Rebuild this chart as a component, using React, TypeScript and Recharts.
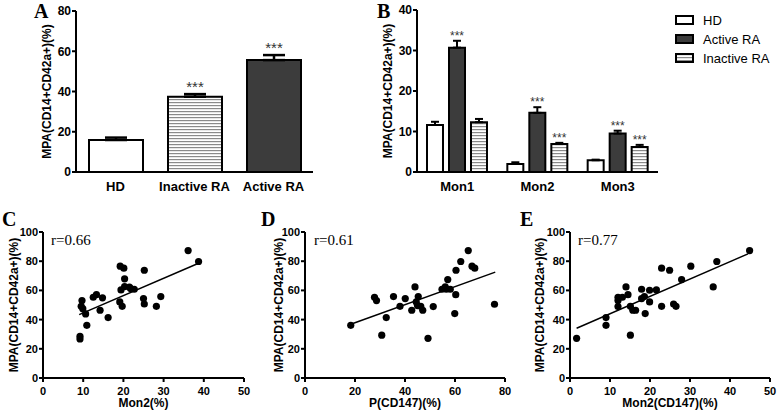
import React from 'react';
import { Bar, BarChart, Cell, ErrorBar, LabelList, ReferenceLine, Scatter, ScatterChart, XAxis, YAxis } from 'recharts';

const SANS = '"Liberation Sans", Arial, sans-serif';
const SERIF = '"Liberation Serif", "Times New Roman", serif';
const DARK = '#3c3c3c';
const Y_LABEL = 'MPA(CD14+CD42a+)(%)';

// A: MPA by group
const groupsA = ['HD', 'Inactive RA', 'Active RA'];
const meanA = [15.9, 37.4, 55.6];
const semA = [1.2, 1.3, 2.5];
const starsA = ['', '***', '***'];
const ticksA = [0, 20, 40, 60, 80];

// B: MPA by monocyte subset
const subsetsB = ['Mon1', 'Mon2', 'Mon3'];
const hdB = [11.6, 2.0, 2.9];
const hdSemB = [0.8, 0.4, 0.15];
const activeB = [30.7, 14.6, 9.5];
const activeSemB = [1.7, 1.4, 0.7];
const inactiveB = [12.3, 6.9, 6.2];
const inactiveSemB = [0.8, 0.3, 0.5];
const activeStarsB = ['***', '***', '***'];
const inactiveStarsB = ['', '***', '***'];
const ticksB = [0, 10, 20, 30, 40];

// C: Mon2(%) vs MPA
const mon2C = [9.2, 9.2, 9.7, 9.5, 9.9, 10.6, 10.9, 12.5, 13.3, 14.2, 14.8, 16.2, 19.2, 20.1, 19.1, 19.7, 19.4, 20.3, 20.3, 21.5, 21.8, 22.7, 25.2, 25.0, 25.2, 28.2, 29.3, 36.1, 38.7];
const mpaC = [28.6, 26.7, 53.0, 49.1, 47.5, 43.9, 36.1, 55.3, 57.1, 46.4, 54.9, 41.4, 76.6, 75.2, 52.1, 49.1, 60.3, 67.9, 62.6, 62.2, 61.3, 60.8, 73.8, 54.4, 50.7, 49.1, 55.8, 87.3, 79.8];
const fitC = [{ x: 9.0, y: 43.4 }, { x: 38.7, y: 78.6 }];

// D: P(CD147)(%) vs MPA
const pCD147D = [18.3, 27.8, 28.6, 30.7, 32.5, 35.4, 38.0, 40.1, 42.7, 44.0, 44.5, 45.0, 45.3, 46.3, 47.1, 49.2, 51.3, 54.8, 56.1, 57.1, 56.5, 58.1, 59.9, 60.3, 60.4, 62.3, 65.3, 66.8, 67.9, 75.8];
const mpaD = [36.1, 55.3, 53.0, 29.3, 41.4, 55.8, 49.1, 54.4, 46.4, 62.4, 52.1, 49.6, 55.8, 49.1, 46.4, 27.2, 48.9, 60.8, 62.4, 67.4, 60.8, 60.8, 44.1, 57.1, 73.8, 79.8, 87.3, 76.6, 75.2, 50.5];
const fitD = [{ x: 18.3, y: 36.8 }, { x: 76.1, y: 72.5 }];

// E: Mon2(CD147)(%) vs MPA
const mon2CD147E = [1.65, 9.0, 9.0, 12.0, 12.0, 12.0, 13.1, 14.0, 14.5, 15.1, 15.1, 15.7, 16.4, 17.9, 17.9, 18.6, 18.8, 19.9, 19.9, 21.6, 22.9, 22.9, 24.9, 25.9, 26.5, 27.9, 30.2, 35.8, 36.7, 44.9];
const mpaE = [27.2, 41.4, 36.1, 55.3, 53.0, 48.9, 55.3, 62.4, 57.1, 49.1, 29.3, 46.4, 46.4, 60.8, 54.4, 55.8, 44.1, 60.1, 52.1, 60.3, 75.2, 49.1, 73.8, 50.7, 49.1, 67.4, 76.6, 62.4, 79.8, 87.3];
const fitE = [{ x: 1.65, y: 34.1 }, { x: 44.5, y: 85.0 }];

const mpaTicks = [0, 20, 40, 60, 80, 100];

const rowsA = groupsA.map((name, i) => ({ name, mean: meanA[i], err: [0, semA[i]], idx: i }));
const fillsA = ['#fff', 'url(#stripes)', DARK];

const rowsB = subsetsB.map((name, i) => ({
  name,
  hd: hdB[i],
  hdErr: [0, hdSemB[i]],
  active: activeB[i],
  activeErr: [0, activeSemB[i]],
  inactive: inactiveB[i],
  inactiveErr: [0, inactiveSemB[i]],
  idx: i,
}));

const axisLine = { stroke: '#000', strokeWidth: 2 };
const tickFont = { fill: '#000', fontSize: 12, fontWeight: 'bold' as const };

// stars sit above the error bar; the bar's own height gives the px per unit
function starLabel(means: number[], sems: number[], stars: string[], fontSize: number, gap: number) {
  return (props: any) => {
    const i = props.value;
    const s = stars[i];
    const vb = props.viewBox ?? props;
    if (!s || !vb || !means[i]) return null;
    const h = Math.abs(vb.height);
    const top = Math.min(vb.y, vb.y + vb.height);
    const errPx = (sems[i] / means[i]) * h;
    return (
      <text x={vb.x + vb.width / 2} y={top - errPx - gap} textAnchor="middle" fontSize={fontSize} fill="#333" fontFamily={SANS}>
        {s}
      </text>
    );
  };
}

function yLabel(offset: number) {
  return { value: Y_LABEL, angle: -90, position: 'insideLeft' as const, offset, style: { textAnchor: 'middle', fontWeight: 'bold', fontSize: 12, fill: '#000' } };
}

const dot = (p: any) => <circle cx={p.cx} cy={p.cy} r={3.6} fill="#000" />;

function ScatterPanel({ left, width, right, yAxisWidth, xs, ys, fit, xMax, xTicks, xLabel, yLabelX }: {
  left: number; width: number; right: number; yAxisWidth: number; xs: number[]; ys: number[];
  fit: { x: number; y: number }[]; xMax: number; xTicks: number[]; xLabel: string; yLabelX: number;
}) {
  const points = xs.map((x, i) => ({ x, y: ys[i] }));
  return (
    <div style={{ position: 'absolute', left, top: 200 }}>
      <ScatterChart width={width} height={215} margin={{ top: 32, right, bottom: 0, left: 0 }}>
        <XAxis
          type="number"
          dataKey="x"
          domain={[0, xMax]}
          ticks={xTicks}
          height={37}
          axisLine={axisLine}
          tickLine={axisLine}
          tickSize={4}
          tickMargin={5}
          tick={{ ...tickFont, fontSize: 11 }}
          label={{ value: xLabel, position: 'insideBottom', offset: 8, style: { fontWeight: 'bold', fontSize: 12, fill: '#000' } }}
        />
        <YAxis
          type="number"
          dataKey="y"
          domain={[0, 100]}
          ticks={mpaTicks}
          width={yAxisWidth}
          axisLine={axisLine}
          tickLine={axisLine}
          tickSize={4}
          tickMargin={1}
          tick={{ ...tickFont, fontSize: 11 }}
          label={yLabel(yLabelX)}
        />
        <ReferenceLine segment={fit} stroke="#000" strokeWidth={1.5} />
        <Scatter data={points} shape={dot} isAnimationActive={false} />
      </ScatterChart>
    </div>
  );
}

export default function App() {
  return (
    <div style={{ position: 'absolute', left: 0, top: 0, width: 778, height: 415, background: '#fff', fontFamily: SANS }}>
      <svg width={0} height={0} style={{ position: 'absolute' }}>
        <defs>
          <pattern id="stripes" width={4} height={3} patternUnits="userSpaceOnUse">
            <rect width={4} height={3} fill="#fff" />
            <rect width={4} height={1.2} fill="#8a8a8a" />
          </pattern>
        </defs>
      </svg>

      <div style={{ position: 'absolute', left: 0, top: 0 }}>
        <BarChart width={330} height={200} data={rowsA} margin={{ top: 11, right: 17, bottom: 0, left: 0 }} barCategoryGap={12.5}>
          <XAxis dataKey="name" height={28} axisLine={axisLine} tickLine={false} tickSize={5} tickMargin={5} interval={0} tick={{ ...tickFont, fontSize: 13 }} />
          <YAxis width={76} domain={[0, 80]} ticks={ticksA} axisLine={axisLine} tickLine={axisLine} tickSize={4} tickMargin={1} tick={tickFont} label={yLabel(47)} />
          <Bar dataKey="mean" barSize={54} stroke="#000" strokeWidth={2} isAnimationActive={false}>
            {rowsA.map((r, i) => <Cell key={r.name} fill={fillsA[i]} />)}
            <ErrorBar dataKey="err" width={11} stroke="#000" strokeWidth={2.5} />
            <LabelList dataKey="idx" content={starLabel(meanA, semA, starsA, 15, 2)} />
          </Bar>
        </BarChart>
      </div>

      <div style={{ position: 'absolute', left: 330, top: 0 }}>
        <BarChart width={340} height={200} data={rowsB} margin={{ top: 10, right: 12, bottom: 0, left: 0 }} barCategoryGap={10} barGap={6}>
          <XAxis dataKey="name" height={28} axisLine={axisLine} tickLine={false} tickSize={5} tickMargin={5} interval={0} tick={{ ...tickFont, fontSize: 13 }} />
          <YAxis width={87} domain={[0, 40]} ticks={ticksB} axisLine={axisLine} tickLine={axisLine} tickSize={4} tickMargin={1} tick={tickFont} label={yLabel(58)} />
          <Bar dataKey="hd" barSize={16} fill="#fff" stroke="#000" strokeWidth={2} isAnimationActive={false}>
            <ErrorBar dataKey="hdErr" width={4} stroke="#000" strokeWidth={2} />
          </Bar>
          <Bar dataKey="active" barSize={16} fill={DARK} stroke="#000" strokeWidth={2} isAnimationActive={false}>
            <ErrorBar dataKey="activeErr" width={4} stroke="#000" strokeWidth={2} />
            <LabelList dataKey="idx" content={starLabel(activeB, activeSemB, activeStarsB, 12, 1)} />
          </Bar>
          <Bar dataKey="inactive" barSize={16} fill="url(#stripes)" stroke="#000" strokeWidth={2} isAnimationActive={false}>
            <ErrorBar dataKey="inactiveErr" width={4} stroke="#000" strokeWidth={2} />
            <LabelList dataKey="idx" content={starLabel(inactiveB, inactiveSemB, inactiveStarsB, 12, 1)} />
          </Bar>
        </BarChart>
      </div>

      <ScatterPanel left={0} width={260} right={16} yAxisWidth={43} xs={mon2C} ys={mpaC} fit={fitC} xMax={50} xTicks={[0, 10, 20, 30, 40, 50]} xLabel="Mon2(%)" yLabelX={14} />
      <ScatterPanel left={260} width={260} right={15} yAxisWidth={45} xs={pCD147D} ys={mpaD} fit={fitD} xMax={80} xTicks={[0, 20, 40, 60, 80]} xLabel="P(CD147)(%)" yLabelX={19} />
      <ScatterPanel left={518} width={260} right={8} yAxisWidth={52} xs={mon2CD147E} ys={mpaE} fit={fitE} xMax={50} xTicks={[0, 10, 20, 30, 40, 50]} xLabel="Mon2(CD147)(%)" yLabelX={22} />

      <svg width={778} height={415} style={{ position: 'absolute', left: 0, top: 0, pointerEvents: 'none' }}>
        <g fontFamily={SERIF} fontWeight="bold" fontSize={20} fill="#000">
          <text x={34} y={18}>A</text>
          <text x={377} y={18}>B</text>
          <text x={2} y={226}>C</text>
          <text x={261} y={226}>D</text>
          <text x={520} y={226}>E</text>
        </g>
        <g fontFamily={SERIF} fontSize={15} fill="#000">
          <text x={51} y={245}>r=0.66</text>
          <text x={314} y={245}>r=0.61</text>
          <text x={578} y={245}>r=0.77</text>
        </g>
        <g fontFamily={SANS} fontSize={13} fill="#000">
          <rect x={676} y={16} width={17} height={8} fill="#fff" stroke="#000" strokeWidth={2} />
          <text x={703} y={25}>HD</text>
          <rect x={676} y={35} width={17} height={8} fill={DARK} stroke="#000" strokeWidth={2} />
          <text x={703} y={44}>Active RA</text>
          <rect x={676} y={54} width={17} height={8} fill="url(#stripes)" stroke="#000" strokeWidth={2} />
          <text x={703} y={63}>Inactive RA</text>
        </g>
      </svg>
    </div>
  );
}
